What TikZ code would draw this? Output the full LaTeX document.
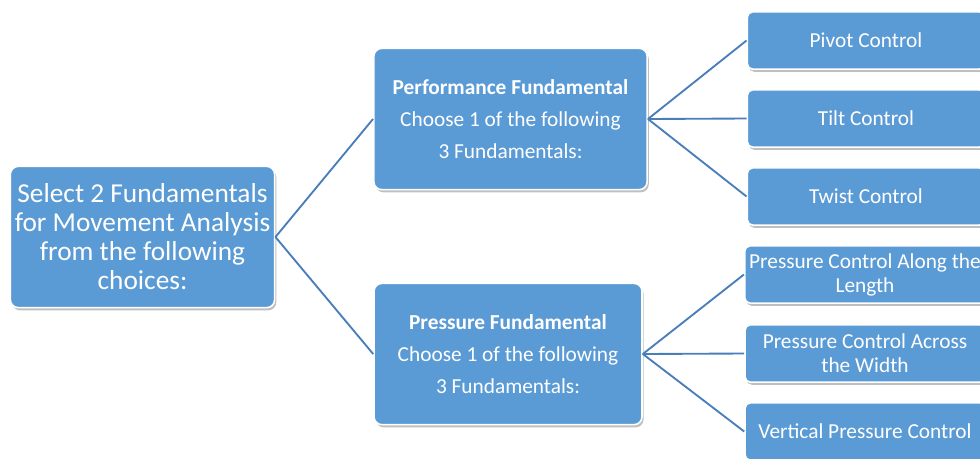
\documentclass[tikz,border=0pt]{standalone}
\usepackage{fontspec}
\setmainfont{Carlito}
\usetikzlibrary{shadows}
\definecolor{boxblue}{HTML}{5B9BD5}
\definecolor{linkblue}{HTML}{4A7EBB}
\tikzset{
	fbox/.style={draw=white, line width=1.2pt, fill=boxblue, rounded corners=6pt, text=white, align=center,
		drop shadow={shadow xshift=1.2pt, shadow yshift=-2pt, opacity=0.25, fill=black}},
	rootbox/.style={fbox, minimum width=198pt, minimum height=106pt, font=\fontsize{20.5}{21.8}\selectfont},
	midbox/.style={fbox, minimum width=205pt, minimum height=106pt, font=\fontsize{16}{24}\selectfont},
	leafbox/.style={fbox, rounded corners=4pt, minimum width=178pt, minimum height=43pt, font=\fontsize{16}{18}\selectfont},
	link/.style={draw=linkblue, line width=1.4pt}
}
\begin{document}
\begin{tikzpicture}[x=0.75pt, y=-0.75pt]
	\useasboundingbox (0,0) rectangle (980,458);
	% left
	\node [rootbox] (root) at (142.5, 237) {Select 2 Fundamentals\\for Movement Analysis\\from the following\\choices:};
	% middle
	\node [midbox] (perf) at (510.5, 119) {\textbf{Performance Fundamental}\\Choose 1 of the following\\3 Fundamentals:};
	\node [midbox, minimum width=201pt] (pres) at (508, 354) {\textbf{Pressure Fundamental}\\Choose 1 of the following\\3 Fundamentals:};
	% right
	\node [leafbox] (pivot) at (866, 40.5) {Pivot Control};
	\node [leafbox] (tilt) at (866, 118.5) {Tilt Control};
	\node [leafbox] (twist) at (866, 196.5) {Twist Control};
	\node [leafbox, minimum width=180pt] (along) at (865, 274.5) {Pressure Control Along the\\Length};
	\node [leafbox, minimum width=180pt] (across) at (865, 353.5) {Pressure Control Across\\the Width};
	\node [leafbox, minimum width=180pt] (vert) at (865, 431.5) {Vertical Pressure Control};
	% connectors
	\draw [link] (root.east) -- (perf.west);
	\draw [link] (root.east) -- (pres.west);
	\draw [link] (perf.east) -- (pivot.west);
	\draw [link] (perf.east) -- (tilt.west);
	\draw [link] (perf.east) -- (twist.west);
	\draw [link] (pres.east) -- (along.west);
	\draw [link] (pres.east) -- (across.west);
	\draw [link] (pres.east) -- (vert.west);
\end{tikzpicture}
\end{document}
